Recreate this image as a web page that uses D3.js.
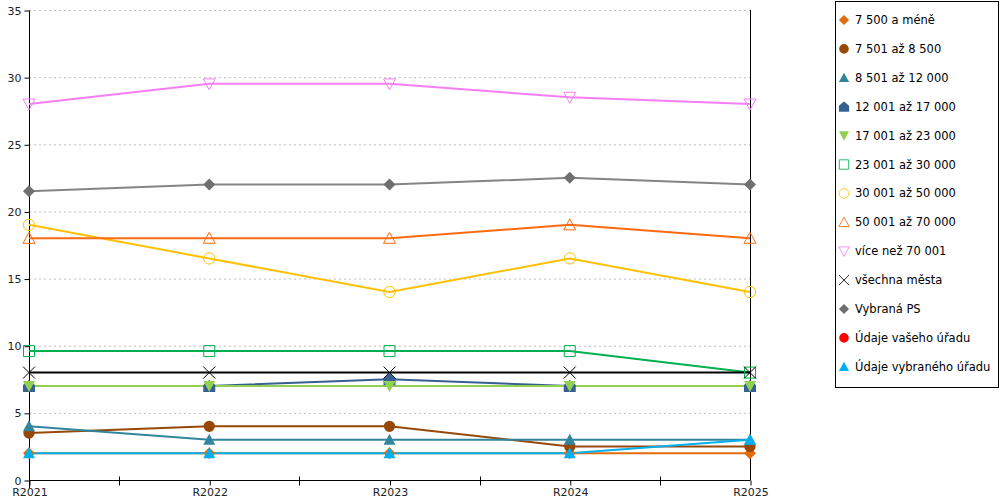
<!DOCTYPE html>
<html><head><meta charset="utf-8">
<script src="https://cdn.jsdelivr.net/npm/d3@7"></script>
<style>
body{margin:0;background:#fff;}
svg{display:block;font-family:"DejaVu Sans",sans-serif;}
</style></head>
<body><svg id="c" width="1000" height="500"></svg>
<script>
const categories = ["R2021","R2022","R2023","R2024","R2025"];
const yTicks = [0,5,10,15,20,25,30,35];

const seriesNames = ["7 500 a méně","7 501 až 8 500","8 501 až 12 000","12 001 až 17 000","17 001 až 23 000","23 001 až 30 000","30 001 až 50 000","50 001 až 70 000","více než 70 001","všechna města","Vybraná PS","Údaje vašeho úřadu","Údaje vybraného úřadu"];
const s_7500 = [2,2,2,2,2];
const s_8500 = [3.5,4,4,2.5,2.5];
const s_12000 = [4,3,3,3,3];
const s_17000 = [7,7,7.5,7,7];
const s_23000 = [7,7,7,7,7];
const s_30000 = [9.6,9.6,9.6,9.6,8];
const s_50000 = [19,16.5,14,16.5,14];
const s_70000 = [18,18,18,19,18];
const s_over70 = [28,29.5,29.5,28.5,28];
const s_all = [8,8,8,8,8];
const s_ps = [21.5,22,22,22.5,22];
const s_your = [null,null,null,null,null];
const s_selected = [2,2,2,2,3];
const seriesValues = [s_7500,s_8500,s_12000,s_17000,s_23000,s_30000,s_50000,s_70000,s_over70,s_all,s_ps,s_your,s_selected];

const colors = ["#e36c0a","#974806","#31859c","#376092","#92d050","#00b050","#ffc000","#ff6a10","#f57ef5","#000000","#858585","#ff0000","#00b0f0"];
const markerColors = ["#e36c0a","#974806","#31859c","#376092","#92d050","#00b050","#ffc000","#ff6a10","#f57ef5","#000000","#6f6f6f","#ff0000","#00b0f0"];
const shapes = ["diamond","circle","triangle","house","tridown","square","ocircle","otriangle","otridown","x","diamond","circle","triangle"];

const svg = d3.select("#c");
const L=29, R=750, T=10, B=480;
const x = d3.scalePoint().domain(categories).range([L,R]);
const y = d3.scaleLinear().domain([0,35]).range([B,T]);

// gridlines
svg.append("g").selectAll("line").data(yTicks.filter(d=>d>0)).join("line")
  .attr("x1",L).attr("x2",R).attr("y1",d=>y(d)+0.5).attr("y2",d=>y(d)+0.5)
  .attr("stroke","#c0c0c0").attr("stroke-dasharray","2,3");

// right border
svg.append("line").attr("x1",R+0.5).attr("x2",R+0.5).attr("y1",T).attr("y2",B).attr("stroke","#000");

// y axis
const yAxis = d3.axisLeft(y).tickValues(yTicks).tickSize(5).tickPadding(3).tickFormat(d3.format("d"));
const gy = svg.append("g").attr("transform",`translate(${L+0.5},0.5)`).call(yAxis);
gy.select(".domain").attr("d",`M0,${T}V${B+8}`);
gy.selectAll("text").attr("font-size","11px").attr("fill","#222").attr("font-family","DejaVu Sans");

// x axis
const xAxis = d3.axisBottom(x).tickSize(5).tickPadding(3);
const gx = svg.append("g").attr("transform",`translate(0.5,${B+0.5})`).call(xAxis);
gx.select(".domain").attr("d",`M${L},0H${R}`);
gx.selectAll("text").attr("font-size","11px").attr("fill","#222").attr("font-family","DejaVu Sans");
// minor ticks between categories
const mids = categories.slice(1).map((c,i)=>(x(categories[i])+x(c))/2);
gx.append("g").selectAll("line").data(mids).join("line")
  .attr("x1",d=>Math.round(d)).attr("x2",d=>Math.round(d)).attr("y1",-4).attr("y2",5).attr("stroke","#000");

function markerPath(shape){
  switch(shape){
    case "diamond": return "M0,-6L6,0L0,6L-6,0Z";
    case "circle": case "ocircle": return d3.symbol(d3.symbolCircle,100)();
    case "triangle": case "otriangle": return "M0,-6L6,5L-6,5Z";
    case "tridown": case "otridown": return "M-6,-5L6,-5L0,6Z";
    case "house": return "M0,-6L6,-1L6,6L-6,6L-6,-1Z";
    case "square": return "M-5.5,-5.5H5.5V5.5H-5.5Z";
    case "x": return "M-6,-6L6,6M6,-6L-6,6";
  }
}
function styleMarker(sel, shape, col){
  const open = shape.startsWith("o") || shape==="square";
  if(shape==="x"){ sel.attr("fill","none").attr("stroke",col).attr("stroke-width",1); }
  else if(open){ sel.attr("fill","#fff").attr("fill-opacity",0).attr("stroke",col).attr("stroke-width",1); }
  else { sel.attr("fill",col).attr("stroke","none"); }
}

const line = d3.line().defined(d=>d.v!=null).x(d=>x(d.c)).y(d=>y(d.v));
const data = seriesNames.map((n,i)=>({name:n, pts:categories.map((c,j)=>({c, v:seriesValues[i][j]}))}));

const gl = svg.append("g");
data.forEach((s,i)=>{
  gl.append("path").attr("d",line(s.pts)).attr("fill","none").attr("stroke",colors[i]).attr("stroke-width",2);
});
const gm = svg.append("g");
data.forEach((s,i)=>{
  s.pts.filter(p=>p.v!=null).forEach(p=>{
    const m = gm.append("path").attr("d",markerPath(shapes[i])).attr("transform",`translate(${x(p.c)},${y(p.v)})`);
    styleMarker(m, shapes[i], markerColors[i]);
  });
});

// legend
const lg = svg.append("g");
lg.append("rect").attr("x",835.5).attr("y",1.5).attr("width",163).attr("height",386).attr("fill","#fff").attr("stroke","#000");
seriesNames.forEach((n,i)=>{
  const yy = 20 + i*28.9;
  const m = lg.append("path").attr("d",markerPath(shapes[i])).attr("transform",`translate(844,${yy}) scale(0.85)`);
  styleMarker(m, shapes[i], markerColors[i]);
  lg.append("text").attr("x",855).attr("y",yy+4).attr("font-size","11.5px").attr("fill","#000").text(n);
});
</script></body></html>
